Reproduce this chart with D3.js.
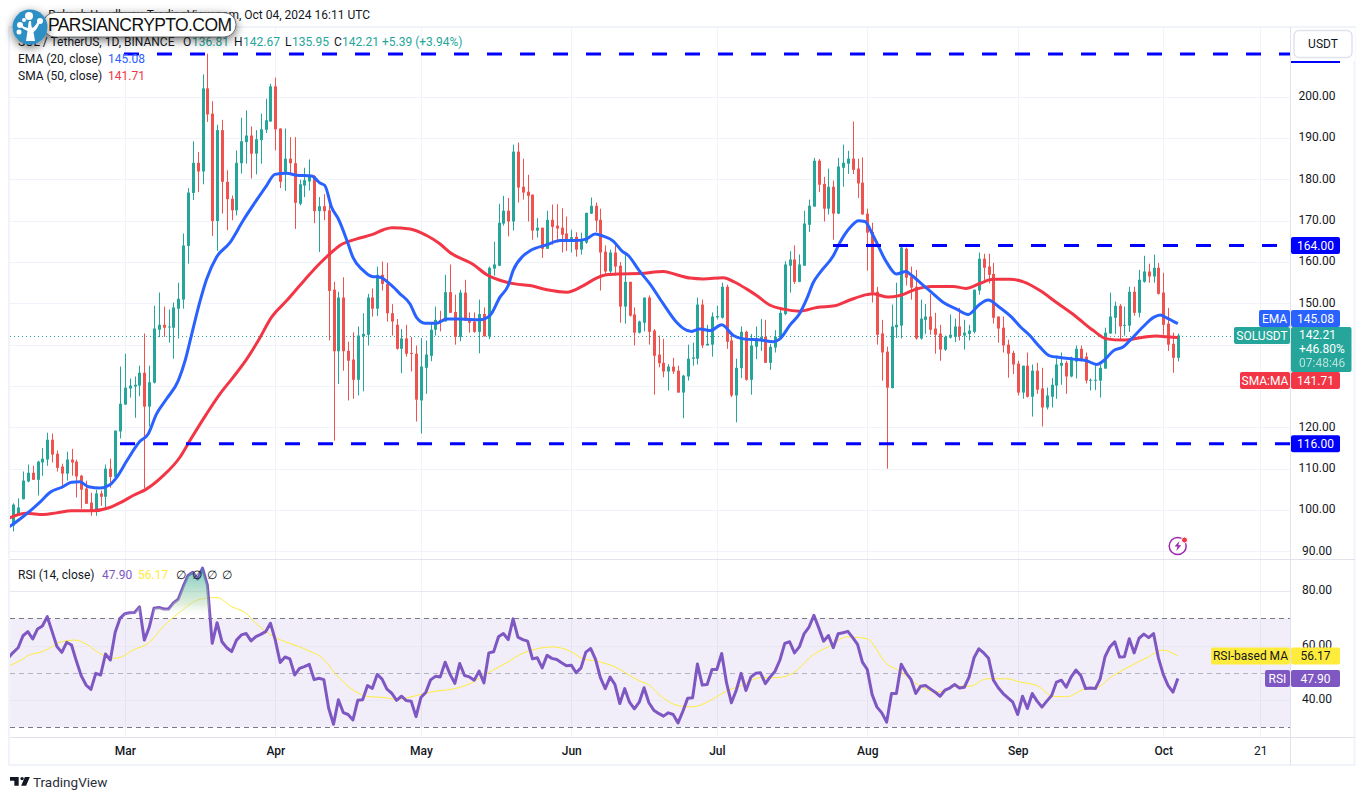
<!DOCTYPE html>
<html><head><meta charset="utf-8">
<script src="https://cdn.jsdelivr.net/npm/d3@7/dist/d3.min.js"></script>
<style>
html,body{margin:0;padding:0;background:#fff;overflow:hidden}
svg{display:block}
text{font-family:Roboto,"Liberation Sans",sans-serif;font-size:12px;fill:#131722}
</style></head><body>
<svg id="c" width="1366" height="800"></svg>
<script>
const opens=[
96.2,99.0,102.6,106.9,109,107.3,111.5,112.2,117,113.6,
110.5,108.8,112.2,111.7,108.3,105.2,101.8,99.6,104,103.2,
110,108,119,125.5,129.4,129.9,130.1,133.2,125,130.8,
143.6,144.8,144.3,144.1,148.7,150.9,163.9,176.7,184,181.9,
202,195.9,169.9,191.9,179.4,175.3,172.5,183.9,189,190.6,
186.2,189.5,192,194,202.5,192.3,181.4,185,183.9,174.1,
178.5,179.5,180.8,172.3,173.5,172.5,153.3,138.4,151.4,138.5,
136.4,131.5,142,142.4,151.4,148.7,156.9,154.7,147.6,144.8,
139,141.5,138,137.8,126.5,134.4,137.3,143.6,146,145.6,
152.7,147.9,141.9,152.6,146.1,145.6,143.1,147.4,142,158.4,
159.1,169.3,172.4,169.8,186.7,178.2,177,176.3,167.6,168.3,
163.2,170.2,168.8,168.3,166.9,165.1,166.1,163,164.7,171.7,
173.6,170.2,162.5,157.7,162.3,159.1,149.2,155.2,147.3,142.9,
145.3,151.4,143.4,137.6,135.6,133.5,134.7,133.7,128.4,132.3,
136.6,136.6,149.7,139.8,140,146.6,146.5,154,141,127.7,
134.3,143.1,131.5,139.5,141,141.9,135.6,139.3,141.8,147.4,
159.1,160.6,155.2,159.1,169,173.4,184.5,178.9,172.9,178.2,
171.7,182.8,183.8,185,182.6,179.2,171.7,167.3,152.8,142.7,
138.3,129.5,144.2,144.6,163.2,156.5,154,141.5,146,146.8,
143.9,142.7,138.8,141.7,141.9,144.4,142.2,142.6,143.1,153.1,
160.8,158.9,157.1,146.8,144.1,140,138,135.4,128.4,134.9,
127.4,133.7,129.4,124.8,127.4,130.1,134.9,135.6,132.3,135.9,
139,137.1,131.3,131.4,131.3,134.2,142.7,146.5,149.4,144.6,
144.6,152.8,147.7,155.2,157.7,156.5,158.6,152.6,145.1,140.2,136.81];
const highs=[
101.6,102.8,109.3,111,110.7,111.9,115,118.7,118.5,114.4,
111.2,114.1,114.8,112.2,108.5,107.1,104.2,104.9,104.7,111,
112.4,119.2,134.7,137.8,131.8,132.3,134.9,142.7,134.9,149.4,
152.6,149.2,148.5,150.2,155,166.9,177.9,189.2,186.6,205.4,
210.4,198.9,193.2,194.4,182.2,176.1,187,194.9,196.7,192.8,
191.9,195.9,199.5,203.1,204.6,192.3,192.3,190.2,190.2,179.9,
182.8,184.8,181,175.7,176.4,176.1,155.2,152.8,156.3,140.7,
143,144.4,147.6,152.3,153.6,158.9,160.1,159.8,149.8,146.2,
143.8,144.8,141.8,139.8,141.6,141,145,149.2,148.2,156.9,
159.4,152.1,153.3,155.7,147.8,147.8,150.9,149,158.9,164.9,
174.1,176,175.5,188.4,188.9,185,181.1,176.3,170.6,168.3,
172.4,173.9,174,173,171,167.8,167.2,167.1,171.9,175.6,
174.4,172.9,164,163,164.4,160,162.3,155.2,149,145.8,
151.4,151.9,143.8,142.2,141.4,135.3,136.8,134.9,132.7,140,
140.5,151.4,150.9,144.8,147.8,149.4,155,154.5,143.1,136.6,
144.4,143.4,142.6,144.4,146.2,146,140.2,143.5,148.6,160.2,
162.6,164,161.8,172.4,175.1,185.2,184.9,180.6,182.6,179.7,
185.2,188.4,186.9,194,185,185.3,172.9,169.5,154,146,
139.5,149.7,155,163.7,163.5,158.9,158.1,150.9,149.8,152.3,
147.7,144.8,142.2,147.3,146.3,148.9,146,144.8,153.3,162.3,
162,162,159.8,146.8,146.8,141.2,138.5,136.1,134.9,138.1,
135.2,135.6,134.4,129.6,131.9,137.3,138.1,136.1,137.1,139.8,
139.8,138.1,131.8,135.3,135.2,144.1,152.6,150.4,149.8,149.2,
154,154,158.1,161.5,159.6,161.8,159.8,157.4,148.9,142.9,142.67];
const lows=[
94.8,98.6,102.6,106.7,107.3,103.5,108.3,110.7,111.5,109.3,
105.2,107.1,108.3,103,100.3,101.5,98.6,98.6,101,100.3,
105.4,107.9,117.3,125.5,127.2,122.3,127.5,105.3,120.2,130.6,
141.8,141.9,140.5,136.6,141.5,148.7,159.6,175,176.9,178.8,
193.9,166.3,162.7,171.7,167.7,170.1,171.3,181.4,183.8,180.2,
181.2,183.8,191.2,193.9,187,177.9,177.2,181.4,168,173.7,
175.7,177.3,169.4,162.4,170.1,141,116.8,130.5,133.7,126.5,
126.9,127.7,128.7,139.8,146.8,146.9,153.1,145.6,142.2,138.8,
133.1,137.1,133.5,121.4,118.5,128.1,136,142.2,143.2,145.6,
147.7,140,140.8,145.8,142.9,142.9,137.9,142,141.3,156.7,
159,168.8,166.2,167.6,174.4,175.1,169.8,165.4,165.9,161,
163.2,164.2,164.7,162.3,162.7,162.3,161.3,161.8,164.4,171.6,
167.3,153.1,156.7,156.7,156.7,145.3,145.1,146.8,139.8,142.7,
143.2,140,127.9,134.5,132.1,128.9,132.9,128.4,122.2,131.3,
134.9,135.2,139.2,139.8,137.1,146.1,146.3,139,127.3,121.2,
131.9,131.3,127.9,136.5,138.5,135.6,133.9,138.1,141.4,147.1,
152.6,154.7,155.1,159.1,167.3,173.4,176.9,169.8,171.5,165.4,
171.6,178.2,181.3,181.3,175.5,171.5,157.9,150.2,140,131.3,
110,129.4,141.6,141.5,154.3,150.9,141.2,141.2,142.6,142.4,
137.8,136.1,138.5,141.5,140.6,141,138.8,141,142.7,152.1,
155.5,154.8,145.1,140.5,138.1,132,132.9,127.7,126.9,127.2,
122.6,128.1,120.2,124.3,124.8,126.9,130.3,128.1,132.1,131.8,
135.9,130.6,128.9,129,127.2,134.2,142.7,142.6,141,142.2,
143.1,147,146.6,155,155,155,152.1,142.4,138.5,133.2,135.95];
const closes=[
101.3,100.6,107.1,109,107.3,111.7,112.4,117,113.4,110.2,
108.8,112.2,111.5,108.1,104.9,101.5,99.6,104,103.2,110,
108,119.2,125.7,129.6,130.1,130.3,133.2,125,130.9,143.9,
144.8,144.1,144.4,149,151.1,164,176.8,184,181.9,202,
195.7,169.9,191.9,179.4,175.2,172.5,184,189.2,190.6,186.2,
189.7,192.1,194.3,202.5,192.1,179.4,185,183.9,174.3,178.8,
179.8,180.8,172.3,173.5,172.3,153,138.4,151.4,138.4,136.1,
131.5,142.2,142.6,151.4,148.7,156.9,154.7,147.6,145.6,139,
141.5,137.8,137.8,126.7,134.7,137.6,143.6,146,145.4,152.7,
147.7,141.9,152.6,145.8,145.3,143.1,147.4,142,158.6,159.4,
169.5,172.4,169.8,186.7,178,176.8,176,167.6,168.3,163.2,
170.2,168.5,168.1,166.6,165.1,166,163,165.2,171.9,173.6,
170,162.3,157.7,162.3,158.9,149.2,155.2,147,142.9,145.6,
151.4,143.1,137.3,135.5,133.5,134.7,133.5,128.4,132.5,136.6,
136.9,149.7,139.8,140.2,146.8,146.9,154,140.7,127.7,134.4,
143.1,131.5,139.8,141.5,141.9,135.6,139.5,141.9,147.7,159.4,
160.6,155.2,159.4,169.3,173.6,184.5,178.7,172.9,178.2,171.7,
183.1,184,185,182.3,179,171.5,167.1,152.6,142.4,138.1,
129.6,144.4,144.8,163.5,156.2,153.8,141.5,146.3,146.8,143.6,
142.4,138.8,141.9,142.4,144.4,142.1,142.9,143.4,153.3,160.8,
158.6,156.9,146.5,143.9,139.8,137.8,135.2,128.4,134.9,127.4,
133.7,129.1,124.8,127.7,130.3,135.2,135.6,132.3,136.6,139,
136.1,131.3,131.5,131.5,134.4,142.9,146.8,149.4,144.4,144.8,
152.8,147.7,155.7,157.7,156.5,158.6,152.3,144.8,140,136.81,142.21];
const emaDays=[-1,1.4,3.4,5.5,7.6,10,12,13.7,15.5,17.9,19.9,21.3,23.4,26.1,27.8,29.5,31.6,34,35.4,36.7,38.5,39.8,41.9,44.6,47.4,50.1,52.2,53.9,56.3,58.4,61.5,63.2,64.2,65.6,67,69,70,72,73.9,75.6,77.6,79.7,81.8,83.1,84.8,87.3,89.3,92.1,96.2,98.2,100.3,102,103,105.1,106.5,110,112.7,116.1,118.2,119.9,121.2,123.7,125.4,126.8,129,131.2,134,136.7,138,139.8,141.5,143.6,146,148.4,150.5,154,156.6,158,160.1,162,163.5,164.9,166.3,169,170.4,172.5,174.2,175.5,177.2,180,182,184,185,187.6,189.6,191.7,194.4,196.8,199.2,200.9,203.3,205.8,207.5,209.5,211.6,213.6,215.7,218.5,221.2,223.3,224.7,226.7,228.8,230.2,232.9,235,236.4,237.7,240];
const emaVals=[95.8,97.8,99.7,101.9,104.3,105.5,106.7,106.8,105.6,105.3,106.1,107.9,111.9,116.6,118.4,123.2,126.9,131.3,136.1,142.2,150.6,155.7,161.2,164.6,170.1,174.9,178.5,181.2,181.5,181,180.8,179.1,178.5,173.2,170.4,164.4,161.1,158.1,156.5,156.3,154.7,152.3,149.8,146.6,145.2,145.2,146.2,146.2,146,147,151.5,154.3,157.9,161.5,162.7,164.2,165.2,165.2,165.6,166.8,166.4,165,162.7,161.5,157.9,154.7,149.8,145.4,144,143.2,143.8,143.4,144.8,142.2,141.4,141.1,140.7,141.4,144.8,147.4,151,155.1,157.5,161.5,164.8,168.4,170,169.8,166.4,159.9,157.1,157.7,156.9,154.3,152.3,150.2,148.6,147.3,149.8,150.8,149,146.6,144.4,142.2,139.4,137.3,136.9,136.5,136.1,135.2,136.1,138.5,139.5,141.1,144.4,146.6,147.2,146.5,145.08];
const smaDays=[-1,2.7,6.2,8.9,12,16.1,19.9,22.3,24.7,27.5,30.9,34.3,36.4,39.8,42.6,45.3,48.1,50.5,53.2,56.3,60,63.2,65,67.3,70.8,73.9,76.3,78,81.8,85.2,87.9,90,94.8,97.6,101.7,103.4,106.5,110,114.1,117.5,120.2,122.3,125,129.1,134,136.7,139.5,142.2,146.3,148.7,151.1,153.2,155.9,158.7,162.1,165.6,169.3,172.4,175.9,177.2,180.3,182.7,186.2,189.2,193.7,196.3,199.2,201.9,205.4,208.2,211.6,215,218.8,222.6,225.3,228.8,232.9,235.6,237.7,240];
const smaVals=[98,99.2,98.9,99.3,99.8,99.8,100.6,101.9,103.5,105.1,108.3,112.7,116.8,123.2,128.1,132.1,136.5,141,146.6,150.6,155.6,159.7,161.7,164,165.6,166.6,167.8,168.3,168,166.4,164.4,162.3,159.4,156.9,155.1,154.7,154.3,153.3,152.7,154.3,156.1,156.9,157.1,157.2,157.7,156.9,156.1,155.9,156.2,155.1,153.5,151.9,149.6,148.6,148.1,149,149.4,150.8,152.1,152.3,151.5,151.9,153.5,154.1,154.1,153.6,154.8,155.8,155.8,155.2,153.1,150.2,147,143.4,141.4,141.1,141.8,142.1,141.9,141.71];
// first value is the day before the first candle
const rsi=[55.5,
57.5,59.2,63.6,65.1,62.4,66.1,67.2,70.6,65.1,59.6,
57.5,61.2,60.2,54.3,48.9,45.5,43.9,49.8,49.2,56.9,
54.7,64.9,70,71.7,72,72.1,74.2,62,66.6,73.7,
74,73.4,73.4,75.6,77,81.6,85.7,86.9,84.4,88.4,
82.2,60.8,68.4,61.4,59.2,57.8,62,63.9,64.4,61.7,
63.3,64.1,65.1,68.2,62,53.8,55.8,55.1,49.2,51.6,
52.3,53.1,47.5,48,47.5,37,31.1,40.1,35.4,34.7,
32.7,39.9,40.1,45.3,44.3,49.4,47.7,44,42.5,39.9,
41.4,39.8,39.6,33.9,40.9,42.8,47.4,48.7,48.5,53.9,
49.5,46.1,53.4,49,48.5,47.3,50.6,46.3,57.3,57.7,
63.2,64.4,62.2,69.8,63.1,62.2,61.6,55.1,55.5,51.8,
56.4,55.3,54.9,53.7,52.6,52.8,50,51.8,57.6,58.9,
54.9,48.2,44.2,48.4,45.7,38.7,44.2,39.2,36.8,39.2,
44.5,39,36.3,35.1,34.1,35.3,34.7,31.6,35.9,40.7,
40.8,53.2,45.5,45.7,51.2,51.2,57.1,46.3,39,43.6,
49.8,43.5,48.4,49.8,50,46,48.5,50.6,54.7,60.8,
61.4,57.3,59.5,64.4,66.8,71.1,66.5,61.6,63.7,59.2,
64.3,64.7,65.2,62.9,60.4,53.9,51.2,42,37.4,35.3,
31.9,42.4,42.4,53.1,50,47.6,42.4,45.1,45.3,44.1,
42.9,41.4,43.6,44.4,45.7,44.4,44.7,48.5,55.5,58.8,
57.3,55.3,47.3,44.5,42.4,40.8,39.2,34.7,41.4,36.9,
42.4,39.6,37.4,39.6,41.7,46.6,47.3,44.7,48.4,51,
49,44.2,44.4,44.2,47.8,55.9,59.5,61.4,55.8,55.9,
62.5,57.3,62.6,64.2,62.9,64.4,55.5,49.4,45.3,42.9,47.9];
const rsiMaDays=[-1,2,3,6,8,9.6,12.7,14.8,17.2,20.6,22,24.7,27.8,30.9,34.4,38.5,42,45,48,50,53.6,57,60.5,64,66.6,70,73.5,76,79,83,86.5,90.7,94.8,96.9,101.7,105.1,111.3,114.7,117.5,120.2,123.7,129.2,130.9,133.6,137.4,139.8,145,147,149.8,153.9,157.3,160.8,164.9,168.3,171.8,175.9,180,182.7,186.9,190.3,194.4,197.2,200.6,204.7,207.5,211,214.3,217.1,221.2,222.6,226.7,229.5,233.6,236.9,240];
const rsiMaVals=[52.5,55.1,56.3,57.8,59.6,61.2,62,60.8,57.8,55.3,55.6,58.4,60.8,66.9,72.4,77,77.6,74.3,71.8,68.2,63.3,60.8,58.4,54.9,49.2,43.7,41.2,41,40.3,41.6,43.1,44.1,46.6,49,53.7,57.3,59.5,58,55.1,54.3,52.4,46.9,45.7,41.2,37.8,37.5,41.2,43.3,45.1,48.2,48.2,50,56.7,59.8,63.2,62.5,53.3,50.6,45.1,42.9,45.1,45.1,47.8,47.8,46.6,45.3,41.4,41.2,44.1,44.1,49,51.8,55.5,58.3,56.17];
const gridPrices=[200,190,180,170,160,150,140,130,120,110,100,90];
const priceTicks=[200,190,180,170,160,150,120,110,100,90];
const rsiTicks=[80,60,40];
const rsiLevels=[70,50,30];
const keyLevels=[116,164,210.3];
const keyLabels=["116.00","164.00"];
const timeTickDates=["2024-03-01","2024-04-01","2024-05-01","2024-06-01","2024-07-01","2024-08-01","2024-09-01","2024-10-01","2024-10-21"];
const timeTickLabels=["Mar","Apr","May","Jun","Jul","Aug","Sep","Oct","21"];

const UP="#26a69a",DOWN="#ef5350",EMA="#2962ff",SMA="#f23645",PURPLE="#7e57c2",YEL="#ffeb3b",GRID="#f0f3fa",BLUE="#0000ff";
const L=10,R=1290.5,TOP=27,MID=559.5,BOT=737.5,OUT=765;
const svg=d3.select("#c");
const firstDay=new Date(Date.UTC(2024,1,7));
const dayDate=d=>new Date(firstDay.getTime()+d*864e5);
const x=d3.scaleUtc().domain([firstDay,dayDate(240)]).range([13.3,1177.8]);
const y=d3.scaleLinear().domain([200,90]).range([96.67,551.3]);
const yr=d3.scaleLinear().domain([70,30]).range([618.3,727.3]);
const tDates=timeTickDates.map(s=>new Date(s+"T00:00:00Z"));

const defs=svg.append("defs");
defs.append("clipPath").attr("id","pane").append("rect").attr("x",L).attr("y",TOP).attr("width",R-L).attr("height",BOT-TOP);
defs.append("clipPath").attr("id","ob").append("rect").attr("x",L).attr("y",MID).attr("width",R-L).attr("height",yr(70)-MID);
const g=defs.append("linearGradient").attr("id","obg").attr("gradientUnits","userSpaceOnUse").attr("x1",0).attr("x2",0).attr("y1",yr(88)).attr("y2",yr(70));
g.append("stop").attr("offset",0).attr("stop-color","#26a69a").attr("stop-opacity",.6);
g.append("stop").attr("offset",.7).attr("stop-color","#b7d9b0").attr("stop-opacity",.45);
g.append("stop").attr("offset",1).attr("stop-color","#fff").attr("stop-opacity",0);
const sh=defs.append("filter").attr("id","shadow").attr("x","-20%").attr("y","-60%").attr("width","140%").attr("height","240%");
sh.append("feDropShadow").attr("dx",0).attr("dy",3).attr("stdDeviation",5).attr("flood-color","#000").attr("flood-opacity",.55);

// frame
const frame=svg.append("g").attr("stroke",GRID).attr("fill","none");
frame.append("rect").attr("x",L-1).attr("y",TOP).attr("width",1355.5-L).attr("height",OUT-TOP).attr("stroke-width",2);
// grid
const grid=svg.append("g").attr("clip-path","url(#pane)").attr("stroke",GRID).attr("stroke-width",1);
tDates.forEach(d=>{const px=Math.round(x(d))+.5;
  grid.append("line").attr("x1",px).attr("x2",px).attr("y1",TOP).attr("y2",BOT);});
gridPrices.forEach(p=>{const py=Math.round(y(p))+.5;
  grid.append("line").attr("x1",L).attr("x2",R).attr("y1",py).attr("y2",py);});
// RSI band + grid
svg.append("rect").attr("x",L).attr("width",R-L).attr("y",yr(70)).attr("height",yr(30)-yr(70)).attr("fill",PURPLE).attr("fill-opacity",.1);
rsiTicks.forEach(p=>{const py=Math.round(yr(p))+.5;
  svg.append("line").attr("x1",L).attr("x2",R).attr("y1",py).attr("y2",py).attr("stroke","#e9e8f2");});
rsiLevels.forEach((p,i)=>{const py=Math.round(yr(p))+.5;
  svg.append("line").attr("x1",L).attr("x2",R).attr("y1",py).attr("y2",py).attr("stroke",i==1?"#b2b5be":"#787b86").attr("stroke-dasharray","5 4");});
// pane dividers
[[MID],[BOT]].forEach(([py])=>svg.append("line").attr("x1",L).attr("x2",1355).attr("y1",py).attr("y2",py).attr("stroke","#e0e3eb"));
svg.append("line").attr("x1",R).attr("x2",R).attr("y1",TOP).attr("y2",OUT).attr("stroke","#e0e3eb");

// last price dotted
svg.append("line").attr("x1",L).attr("x2",1234).attr("y1",Math.round(y(142.21))+.5).attr("y2",Math.round(y(142.21))+.5).attr("stroke",UP).attr("stroke-dasharray","1 3");

// candles
const idx=d3.range(closes.length);
const c=svg.append("g").attr("clip-path","url(#pane)").selectAll("g").data(idx).join("g")
  .attr("fill",i=>closes[i]>=opens[i]?UP:DOWN);
c.append("rect").attr("x",i=>Math.round(x(dayDate(i)))).attr("width",1)
  .attr("y",i=>y(highs[i])).attr("height",i=>y(lows[i])-y(highs[i]));
c.append("rect").attr("x",i=>Math.round(x(dayDate(i)))-1).attr("width",3)
  .attr("y",i=>y(Math.max(opens[i],closes[i])))
  .attr("height",i=>Math.max(1,Math.abs(y(opens[i])-y(closes[i]))));

// MA lines
const lineG=svg.append("g").attr("clip-path","url(#pane)").attr("fill","none").attr("stroke-linejoin","round");
const ln=(days,vals,sc,col,w,curve)=>lineG.append("path").attr("d",
  d3.line().x((v,i)=>x(dayDate(days[i]))).y(v=>sc(v)).curve(curve||d3.curveLinear)(vals)).attr("stroke",col).attr("stroke-width",w);
ln(smaDays,smaVals,y,SMA,3,d3.curveMonotoneX);
ln(emaDays,emaVals,y,EMA,3,d3.curveMonotoneX);

// overbought fill
const rsiDays=rsi.map((v,i)=>i-1);
svg.append("path").attr("clip-path","url(#ob)").attr("fill","url(#obg)").attr("d",
  d3.area().x((v,i)=>x(dayDate(rsiDays[i]))).y0(yr(70)).y1(v=>yr(v))(rsi));
ln(rsiMaDays,rsiMaVals,yr,YEL,1,d3.curveMonotoneX);
ln(rsiDays,rsi,yr,PURPLE,3);

// key dashed levels
const starts={116:120,164:833,210.3:124};
const ends={116:1290,164:1277,210.3:1290};
keyLevels.forEach(v=>{const py=y(v);
  svg.append("line").attr("x1",starts[v]).attr("x2",ends[v]).attr("y1",py).attr("y2",py).attr("stroke",BLUE).attr("stroke-width",3).attr("stroke-dasharray","15 18");});

// axes
const ax=svg.append("g").attr("transform",`translate(${R},0)`).call(d3.axisRight(y).tickValues(priceTicks).tickFormat(d3.format(".2f")).tickSize(0));
const ax2=svg.append("g").attr("transform",`translate(${R},0)`).call(d3.axisRight(yr).tickValues(rsiTicks).tickFormat(d3.format(".2f")).tickSize(0));
[ax,ax2].forEach(a=>{a.select(".domain").remove();a.selectAll("text").attr("x",26.5).attr("y",-1).attr("text-anchor","middle").attr("font-family",null).attr("font-size",null);});
const tax=svg.append("g").attr("transform",`translate(0,${BOT})`).call(d3.axisBottom(x).tickValues(tDates).tickFormat((d,i)=>timeTickLabels[i]).tickSize(0));
tax.select(".domain").remove();
tax.selectAll("text").attr("y",8.5).attr("dy",".71em").attr("font-family",null).attr("font-size",null).style("font-weight",(d,i)=>i<8?500:400);
tax.attr("fill",null);

// price tags
function tag(x0,w,yc,h,fill,txt,col,op){
  svg.append("rect").attr("x",x0).attr("y",yc-h/2).attr("width",w).attr("height",h).attr("rx",2).attr("fill",fill);
  if(txt)svg.append("text").attr("x",x0+w/2).attr("y",yc+4.2).attr("text-anchor","middle").style("fill",col||"#fff").style("opacity",op||1).text(txt);
}
tag(1291,49,y(164)+.0,17,BLUE,keyLabels[1]);
tag(1291,49,y(116)+.0,17,BLUE,keyLabels[0]);
tag(1259,31,318.5,17,EMA,"EMA");
tag(1291,49,318.5,17,EMA,"145.08");
tag(1234,56,335.5,17,UP,"SOLUSDT");
svg.append("rect").attr("x",1291).attr("y",327).attr("width",60.5).attr("height",45).attr("rx",2).attr("fill",UP);
[["142.21",339,1],["+46.80%",353,1],["07:48:46",367,.65]].forEach(([t,py,o])=>svg.append("text").attr("x",1299).attr("y",py).style("fill","#fff").style("opacity",o).text(t));
tag(1240,50,380.5,17,SMA,"SMA:MA");
tag(1291,49,380.5,17,SMA,"141.71");
tag(1211,79,yr(56.17),17,YEL,"RSI-based MA","#131722");
tag(1291,49,yr(56.17),17,YEL,"56.17","#131722");
tag(1265,25,yr(47.9),17,PURPLE,"RSI");
tag(1291,49,yr(47.9),17,PURPLE,"47.90");

// USDT box
svg.append("rect").attr("x",1291).attr("y",61).attr("width",49).attr("height",2).attr("fill",BLUE);
svg.append("rect").attr("x",1291).attr("y",28).attr("width",64).attr("height",33).attr("fill","#fff");
svg.append("rect").attr("x",1294).attr("y",30.5).attr("width",58).attr("height",27).attr("rx",5).attr("fill","#fff").attr("stroke","#e0e3eb").attr("stroke-width",1.5);
svg.append("text").attr("x",1323).attr("y",48).attr("text-anchor","middle").text("USDT");
svg.append("line").attr("x1",R).attr("x2",R).attr("y1",TOP).attr("y2",61).attr("stroke","#e0e3eb");

// header texts
svg.append("text").attr("x",370).attr("y",19).attr("text-anchor","end").text("Rakesh Upadhyay, TradingView.com, Oct 04, 2024 16:11 UTC");
const place=(py,parts)=>{const t=svg.append("text").attr("y",py);parts.forEach(([s,col,px])=>t.append("tspan").attr("x",px).style("fill",col).text(s));};
const INK="#131722";
place(46,[["SOL / TetherUS, 1D, BINANCE",INK,18],["O",INK,183],["136.81",UP,192],["H",INK,234],["142.67",UP,243],["L",INK,285],["135.95",UP,292],["C",INK,334],["142.21",UP,342],["+5.39 (+3.94%)",UP,382]]);
place(63,[["EMA (20, close)",INK,18],["145.08",EMA,108]]);
place(80,[["SMA (50, close)",INK,18],["141.71",SMA,108]]);
place(579,[["RSI (14, close)",INK,18],["47.90",PURPLE,102],["56.17",YEL,138],["∅",INK,176],["∅",INK,192],["∅",INK,207],["∅",INK,222]]);

// flash icon
svg.append("circle").attr("cx",1177.7).attr("cy",546).attr("r",8.5).attr("fill","#fff").attr("stroke","#9c27b0").attr("stroke-width",1.5);
svg.append("path").attr("d","M1179.5 541l-5 5.6h3l-1.2 4.4 5-5.7h-3z").attr("fill","#9c27b0");
svg.append("circle").attr("cx",1184.5).attr("cy",540).attr("r",3).attr("fill","#f23645").attr("stroke","#fff");

// TradingView brand
const tv=svg.append("g").attr("transform","translate(10,773.3) scale(.62)").attr("fill","#131722");
tv.append("path").attr("d","M14 6H0v6h7v8h7V6z");tv.append("circle").attr("cx",19.5).attr("cy",8.5).attr("r",2.7);tv.append("path").attr("d","M32 6h-8l-6 14h8l6-14z");
svg.append("text").attr("x",33).attr("y",787).style("font-size","13.5px").style("fill","#2a2e39").text("TradingView");

// watermark
svg.append("rect").attr("x",43).attr("y",12.5).attr("width",193).attr("height",24.5).attr("rx",12).attr("fill","#fff").attr("stroke","#333").attr("stroke-width",.7).attr("filter","url(#shadow)");
svg.append("text").attr("x",48).attr("y",31).style("font-family","'Liberation Sans',sans-serif").style("font-size","17.5px").style("fill","#111").attr("textLength",184).text("PARSIANCRYPTO.COM");
svg.append("circle").attr("cx",30).attr("cy",27).attr("r",17.5).attr("fill","#2f8fc4").attr("filter","url(#shadow)");
const tree=svg.append("g").attr("fill","#fff");
tree.append("path").attr("d","M26 41 L27.5 31 Q24 30 20 26 L21.5 25 Q25 28 28 28 Q28 24 29 21 L31 21 Q31 25 32 28 Q35 27 38 21 L40 22 Q37 30 33.5 32 L35 41 Z");
[[29,16,4],[40,21,3],[20,25,3],[19,32,2.5],[24,20,2]].forEach(([a,b,r])=>tree.append("circle").attr("cx",a).attr("cy",b).attr("r",r));
</script>
</body></html>
